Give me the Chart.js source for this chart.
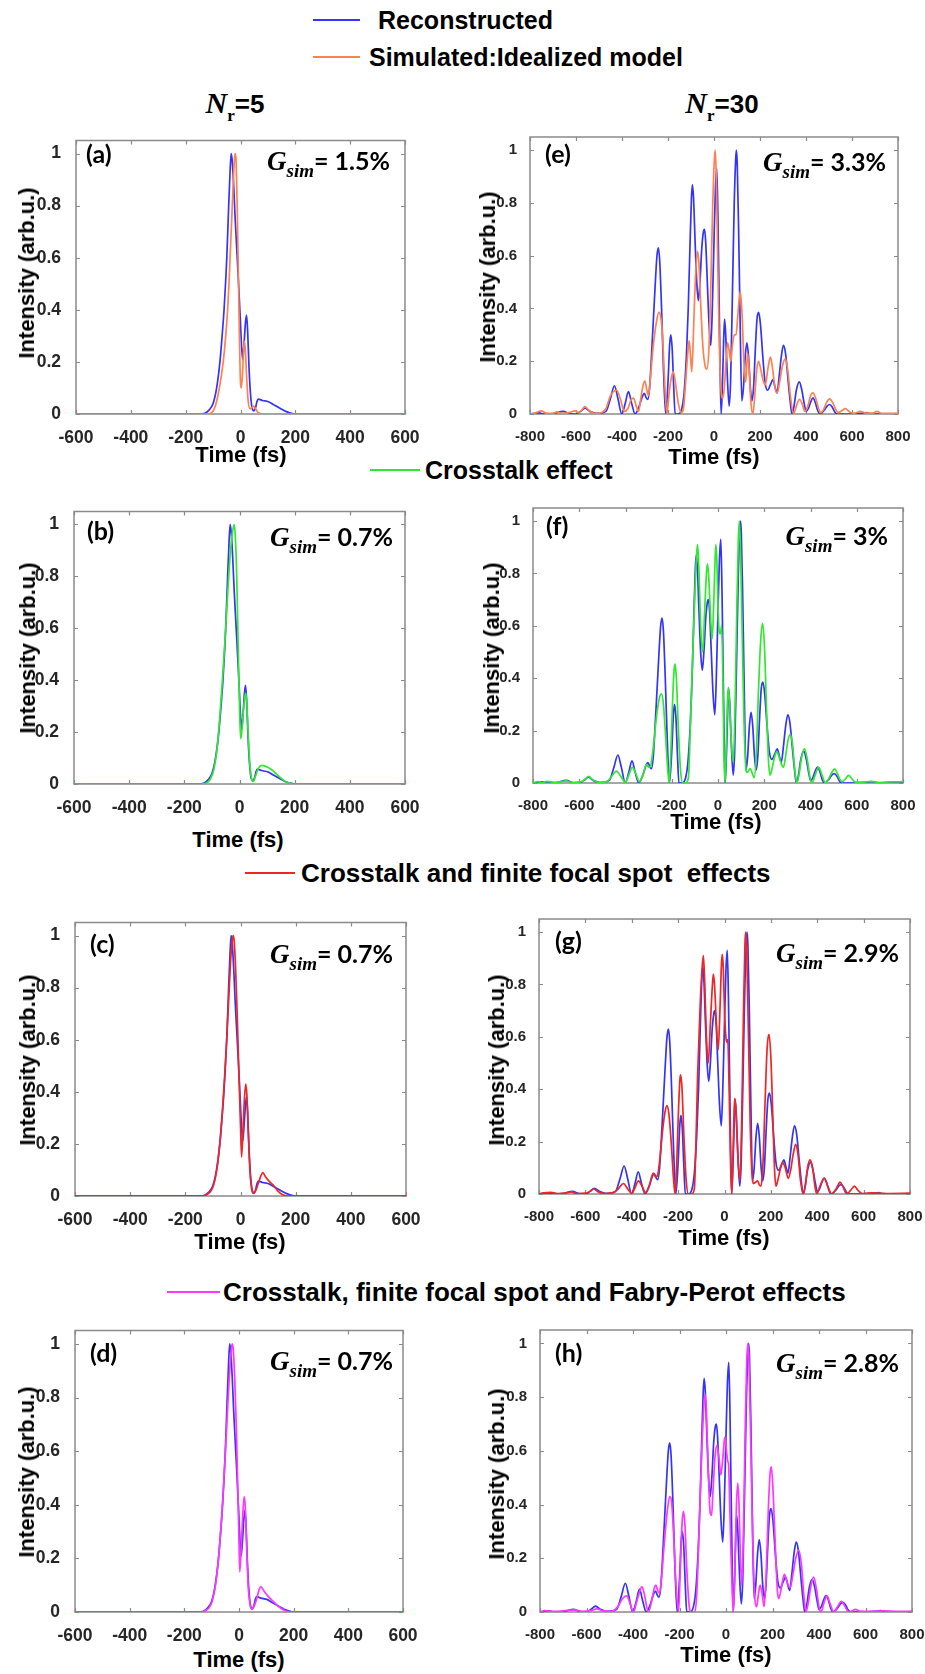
<!DOCTYPE html>
<html>
<head>
<meta charset="utf-8">
<script src="https://cdn.jsdelivr.net/npm/chart.js@4.4.1/dist/chart.umd.min.js"></script>
<style>
  html, body { margin: 0; padding: 0; background: #fff; }
  #page { position: relative; width: 925px; height: 1674px; overflow: hidden; color: #000; }
  #page canvas { position: absolute; }
  .abs { position: absolute; white-space: pre; }
  .key { position: absolute; height: 2px; }
  .legend { font: bold 26px 'Liberation Sans', Arial, sans-serif; line-height: 30px; }
  .xtitle { font: bold 22px 'Liberation Sans', Arial, sans-serif; line-height: 26px; transform: translate(-50%, -50%); }
  .ytitle { font: bold 22px 'Liberation Sans', Arial, sans-serif; line-height: 26px; transform: translate(-50%, -50%) rotate(-90deg); }
  .tag { font: bold 25px Lato, 'Open Sans', sans-serif; line-height: 30px; }
  .gsim { font: bold 25px Lato, 'Open Sans', sans-serif; line-height: 30px; text-align: right; }
  .gsim .g { font: italic bold 27px 'Liberation Serif', 'DejaVu Serif', serif; }
  .gsim .sub { font: italic bold 19px 'Liberation Serif', 'DejaVu Serif', serif; position: relative; top: 7px; }
  .head { font: bold 26px 'Liberation Sans', Arial, sans-serif; line-height: 30px; text-align: center; width: 200px; }
  .head .n { font: italic bold 30px 'Liberation Serif', serif; }
  .head .r { font: bold 17px 'Liberation Serif', serif; position: relative; top: 8px; }
</style>
</head>
<body>
<div id="page"></div>
<script>
// ---- axis ticks ----
const timeTicksNr5 = [-600, -400, -200, 0, 200, 400, 600];
const timeTicksNr30 = [-800, -600, -400, -200, 0, 200, 400, 600, 800];
const intensityTicks = [0, 0.2, 0.4, 0.6, 0.8, 1];

// ---- series: [time (fs), intensity] ----
// N_r = 5
const reconstructedNr5 = [[-600,0],[-300,0],[-150,0],[-130,0.003],[-115,0.015],[-100,0.04],[-87,0.1],[-75,0.2],[-67,0.3],[-60,0.4],[-50,0.6],[-43,0.8],[-38,0.93],[-34,1.0],[-30,0.97],[-25,0.88],[-19,0.74],[-13,0.62],[-7,0.5],[-1,0.37],[4,0.26],[8,0.21],[13,0.27],[18,0.35],[22,0.38],[26,0.32],[31,0.18],[37,0.07],[43,0.02],[49,0.012],[55,0.025],[60,0.048],[65,0.057],[80,0.052],[102,0.047],[122,0.035],[144,0.022],[165,0.01],[181,0.004],[200,0],[600,0]];
const idealizedNr5 = [[-600,0],[-300,0],[-120,0],[-105,0.005],[-92,0.03],[-77,0.1],[-63,0.2],[-54,0.3],[-47,0.4],[-42,0.5],[-38,0.6],[-34,0.7],[-30,0.8],[-26,0.9],[-22,0.98],[-19,1.0],[-16,0.97],[-12,0.8],[-8,0.55],[-4,0.3],[0,0.12],[3,0.1],[7,0.15],[11,0.24],[14,0.28],[18,0.24],[23,0.13],[28,0.05],[35,0.02],[42,0.025],[48,0.03],[55,0.02],[65,0.005],[80,0],[600,0]];
const crosstalkNr5 = [[-600,0],[-300,0],[-140,0],[-120,0.004],[-105,0.02],[-92,0.06],[-80,0.15],[-70,0.28],[-60,0.43],[-50,0.6],[-42,0.75],[-34,0.88],[-27,0.96],[-22,0.99],[-19,1.0],[-15,0.95],[-10,0.8],[-5,0.55],[0,0.3],[4,0.175],[8,0.2],[14,0.28],[20,0.34],[23,0.35],[27,0.3],[32,0.18],[38,0.07],[44,0.02],[50,0.01],[58,0.03],[68,0.06],[80,0.072],[95,0.068],[110,0.06],[123,0.05],[140,0.032],[159,0.015],[175,0.005],[190,0],[600,0]];
const focalSpotNr5 = [[-600,0],[-300,0],[-140,0],[-125,0.004],[-110,0.015],[-98,0.04],[-86,0.1],[-75,0.2],[-66,0.32],[-58,0.45],[-50,0.6],[-43,0.75],[-36,0.9],[-31,0.97],[-27,1.0],[-23,0.98],[-18,0.88],[-12,0.7],[-6,0.48],[0,0.27],[4,0.15],[9,0.25],[14,0.37],[19,0.43],[23,0.39],[28,0.25],[34,0.1],[40,0.03],[46,0.01],[55,0.02],[65,0.05],[75,0.08],[81,0.09],[90,0.075],[105,0.055],[120,0.04],[135,0.02],[150,0.007],[170,0],[600,0]];
const fabryPerotNr5 = [[-600,0],[-300,0],[-140,0],[-125,0.004],[-110,0.015],[-98,0.04],[-86,0.1],[-75,0.2],[-65,0.33],[-56,0.48],[-48,0.63],[-41,0.77],[-34,0.9],[-29,0.97],[-25,1.0],[-21,0.98],[-16,0.88],[-10,0.7],[-4,0.45],[0,0.26],[3,0.15],[8,0.24],[13,0.35],[19,0.43],[23,0.39],[28,0.24],[34,0.09],[40,0.03],[47,0.01],[55,0.02],[65,0.05],[74,0.085],[80,0.095],[90,0.08],[105,0.06],[125,0.04],[145,0.02],[165,0.007],[186,0],[600,0]];

// N_r = 30
const reconstructedNr30 = [[-800,0],[-760,0.004],[-740,0],[-700,0.002],[-655,0.01],[-630,0.002],[-600,0],[-580,0.01],[-561,0.022],[-540,0.01],[-510,0.002],[-470,0.01],[-450,0.06],[-433,0.107],[-418,0.06],[-401,0],[-386,0.04],[-372,0.085],[-358,0.04],[-343,0],[-325,0.03],[-310,0.07],[-303,0.078],[-295,0.062],[-288,0.055],[-280,0.1],[-270,0.25],[-258,0.45],[-248,0.6],[-242,0.63],[-236,0.58],[-228,0.4],[-220,0.18],[-210,0],[-200,0.12],[-193,0.26],[-188,0.3],[-182,0.25],[-175,0.1],[-169,0],[-155,0],[-140,0.02],[-130,0.08],[-120,0.22],[-112,0.4],[-104,0.65],[-98,0.82],[-94,0.87],[-89,0.82],[-82,0.65],[-75,0.5],[-68,0.43],[-61,0.5],[-53,0.63],[-46,0.69],[-41,0.7],[-36,0.65],[-29,0.5],[-22,0.35],[-14,0.26],[-8,0.38],[-1,0.62],[6,0.85],[12,0.93],[17,0.75],[22,0.45],[27,0.15],[31,0],[37,0.12],[42,0.28],[46,0.36],[51,0.3],[58,0.14],[66,0.03],[72,0.12],[80,0.45],[88,0.8],[94,0.96],[97,1.0],[101,0.95],[107,0.7],[113,0.38],[121,0.05],[128,0.1],[136,0.22],[143,0.27],[150,0.22],[158,0.1],[165,0.05],[172,0.1],[180,0.25],[187,0.36],[194,0.385],[202,0.34],[212,0.22],[222,0.12],[233,0.09],[245,0.11],[256,0.13],[266,0.1],[274,0.08],[283,0.14],[293,0.22],[302,0.26],[311,0.23],[322,0.13],[331,0.05],[339,0],[348,0.03],[358,0.09],[371,0.122],[382,0.09],[392,0.04],[400,0.01],[410,0.02],[420,0.045],[430,0.061],[440,0.045],[450,0.015],[460,0],[480,0.015],[492,0.03],[503,0.036],[515,0.025],[525,0.008],[535,0],[600,0],[650,0.003],[665,0.005],[680,0],[800,0]];
const idealizedNr30 = [[-800,0],[-780,0.003],[-750,0.012],[-730,0.003],[-700,0.002],[-684,0.008],[-660,0.002],[-630,0.005],[-604,0.012],[-590,0.005],[-575,0.015],[-561,0.028],[-545,0.015],[-520,0.002],[-490,0.005],[-470,0.02],[-450,0.07],[-423,0.09],[-405,0.05],[-390,0.01],[-375,0.02],[-360,0.055],[-350,0.06],[-338,0.03],[-328,0.01],[-318,0.06],[-308,0.11],[-300,0.125],[-292,0.09],[-285,0.07],[-278,0.12],[-265,0.25],[-250,0.35],[-240,0.385],[-232,0.37],[-224,0.3],[-216,0.15],[-205,0],[-195,0.08],[-185,0.14],[-177,0.16],[-168,0.12],[-155,0.04],[-143,0.005],[-133,0.02],[-125,0.1],[-115,0.22],[-108,0.278],[-102,0.22],[-97,0.16],[-92,0.24],[-85,0.42],[-78,0.56],[-72,0.617],[-66,0.58],[-58,0.42],[-48,0.25],[-38,0.18],[-31,0.17],[-22,0.25],[-14,0.48],[-6,0.78],[0,0.94],[5,1.0],[10,0.9],[16,0.6],[22,0.3],[30,0.1],[38,0.06],[45,0.1],[52,0.2],[59,0.27],[66,0.24],[73,0.2],[80,0.26],[88,0.3],[96,0.3],[104,0.38],[114,0.465],[122,0.38],[130,0.2],[138,0.12],[146,0.23],[152,0.18],[160,0.05],[169,0],[178,0.08],[186,0.17],[194,0.2],[203,0.17],[213,0.13],[223,0.11],[234,0.17],[245,0.216],[255,0.17],[265,0.1],[275,0.08],[285,0.12],[297,0.18],[310,0.21],[320,0.17],[332,0.07],[346,0],[358,0.03],[372,0.056],[385,0.035],[395,0.01],[408,0.03],[420,0.07],[430,0.08],[442,0.06],[455,0.02],[465,0.005],[478,0.02],[490,0.045],[503,0.057],[515,0.045],[528,0.02],[540,0.005],[555,0.012],[571,0.02],[590,0.008],[610,0.003],[637,0.01],[660,0.003],[690,0.003],[709,0.01],[730,0.002],[800,0.003]];
const crosstalkNr30 = [[-800,0],[-780,0.005],[-760,0.002],[-740,0.006],[-700,0.002],[-655,0.008],[-630,0.002],[-590,0.005],[-575,0.015],[-559,0.025],[-542,0.012],[-515,0.002],[-480,0.005],[-460,0.025],[-439,0.045],[-420,0.025],[-400,0.002],[-388,0.025],[-370,0.06],[-355,0.035],[-340,0.005],[-325,0.03],[-309,0.07],[-298,0.06],[-290,0.07],[-278,0.15],[-265,0.26],[-252,0.33],[-244,0.34],[-236,0.3],[-228,0.2],[-218,0.06],[-211,0],[-204,0.12],[-196,0.32],[-190,0.43],[-186,0.455],[-180,0.4],[-172,0.22],[-162,0.05],[-153,0],[-140,0],[-128,0.02],[-120,0.2],[-111,0.45],[-100,0.72],[-92,0.88],[-88,0.91],[-82,0.8],[-75,0.6],[-66,0.5],[-58,0.65],[-50,0.8],[-46,0.837],[-41,0.8],[-33,0.65],[-25,0.55],[-18,0.7],[-12,0.87],[-9,0.91],[-5,0.85],[0,0.68],[5,0.58],[10,0.57],[16,0.6],[22,0.35],[26,0.1],[30,0],[36,0.15],[41,0.32],[45,0.365],[50,0.3],[58,0.15],[66,0.08],[74,0.3],[82,0.7],[88,0.93],[92,1.0],[97,0.9],[104,0.6],[112,0.25],[120,0.06],[124,0.04],[131,0.045],[139,0.055],[147,0.04],[156,0.02],[165,0.1],[175,0.35],[185,0.55],[193,0.61],[201,0.52],[210,0.28],[218,0.09],[225,0.03],[235,0.06],[245,0.1],[254,0.12],[264,0.1],[275,0.07],[283,0.06],[292,0.1],[302,0.16],[312,0.185],[322,0.15],[332,0.05],[341,0],[350,0.03],[362,0.1],[374,0.13],[386,0.09],[398,0.02],[406,0],[420,0.03],[435,0.06],[450,0.03],[464,0],[478,0.015],[492,0.04],[504,0.054],[517,0.035],[528,0.012],[536,0.005],[550,0.015],[565,0.029],[580,0.015],[595,0.003],[620,0.003],[660,0.006],[700,0.002],[740,0.004],[800,0.005]];
const focalSpotNr30 = [[-800,0],[-780,0.004],[-750,0.006],[-720,0.002],[-690,0.003],[-660,0.008],[-640,0.002],[-600,0.003],[-580,0.01],[-565,0.02],[-548,0.01],[-520,0.002],[-480,0.005],[-458,0.02],[-436,0.04],[-418,0.02],[-400,0.002],[-388,0.02],[-371,0.05],[-356,0.03],[-340,0.005],[-325,0.03],[-307,0.08],[-297,0.065],[-289,0.07],[-278,0.14],[-266,0.25],[-255,0.32],[-247,0.338],[-239,0.3],[-230,0.2],[-220,0.06],[-213,0],[-206,0.12],[-198,0.33],[-192,0.44],[-189,0.455],[-183,0.4],[-175,0.22],[-165,0.05],[-156,0],[-142,0],[-130,0.02],[-123,0.2],[-116,0.45],[-105,0.72],[-95,0.88],[-91,0.91],[-85,0.8],[-78,0.6],[-70,0.5],[-61,0.65],[-52,0.8],[-48,0.84],[-43,0.8],[-35,0.65],[-27,0.55],[-19,0.72],[-13,0.88],[-9,0.915],[-5,0.86],[0,0.7],[6,0.6],[10,0.58],[14,0.59],[20,0.4],[26,0.12],[31,0],[37,0.16],[42,0.33],[45,0.365],[50,0.31],[58,0.14],[67,0.05],[74,0.28],[82,0.7],[88,0.95],[91,1.0],[96,0.92],[103,0.62],[111,0.26],[119,0.07],[124,0.04],[134,0.045],[143,0.05],[150,0.035],[158,0.03],[166,0.12],[175,0.35],[184,0.56],[192,0.61],[200,0.52],[209,0.28],[216,0.09],[222,0.03],[232,0.06],[242,0.1],[251,0.12],[262,0.1],[275,0.06],[285,0.09],[296,0.15],[307,0.19],[317,0.15],[328,0.05],[340,0],[348,0.03],[358,0.1],[369,0.13],[380,0.1],[390,0.03],[398,0],[412,0.03],[430,0.06],[445,0.03],[462,0],[478,0.015],[490,0.035],[498,0.045],[510,0.03],[527,0],[545,0.015],[560,0.03],[575,0.015],[595,0.002],[640,0.004],[700,0.002],[800,0.003]];
const fabryPerotNr30 = [[-800,0],[-780,0.005],[-740,0.002],[-700,0.004],[-650,0.008],[-620,0.002],[-580,0.005],[-556,0.012],[-530,0.004],[-490,0.003],[-465,0.02],[-445,0.05],[-427,0.06],[-412,0.03],[-398,0],[-385,0.035],[-370,0.08],[-362,0.095],[-352,0.07],[-334,0],[-320,0.04],[-308,0.09],[-301,0.1],[-294,0.08],[-286,0.07],[-278,0.12],[-266,0.25],[-252,0.38],[-242,0.43],[-234,0.41],[-226,0.3],[-215,0.1],[-204,0],[-197,0.15],[-189,0.33],[-183,0.375],[-177,0.33],[-168,0.15],[-158,0.02],[-151,0],[-133,0],[-125,0.08],[-114,0.35],[-104,0.6],[-95,0.77],[-90,0.81],[-84,0.74],[-76,0.52],[-68,0.37],[-62,0.36],[-56,0.45],[-47,0.58],[-39,0.62],[-31,0.58],[-22,0.51],[-14,0.57],[-7,0.64],[-4,0.65],[2,0.6],[8,0.56],[11,0.55],[16,0.4],[22,0.2],[28,0.05],[32,0],[38,0.16],[45,0.4],[51,0.48],[56,0.4],[62,0.2],[68,0.1],[75,0.3],[83,0.7],[89,0.93],[94,1.0],[99,0.93],[106,0.65],[114,0.3],[123,0.07],[132,0.02],[140,0.07],[147,0.1],[155,0.07],[164,0.02],[172,0.12],[182,0.38],[190,0.52],[195,0.54],[202,0.46],[212,0.25],[221,0.08],[227,0.05],[238,0.09],[251,0.14],[263,0.11],[276,0.09],[288,0.14],[300,0.2],[313,0.23],[324,0.18],[334,0.07],[344,0],[355,0.04],[366,0.1],[377,0.13],[390,0.08],[400,0.02],[409,0],[420,0.03],[434,0.06],[448,0.03],[463,0],[480,0.02],[496,0.04],[512,0.02],[528,0],[545,0.005],[557,0.01],[575,0.003],[620,0.002],[680,0.004],[740,0.002],[800,0.003]];

// ---- labels ----
const panelLetters = ['(a)', '(b)', '(c)', '(d)', '(e)', '(f)', '(g)', '(h)'];
const gsimValues = ['1.5%', '0.7%', '0.7%', '0.7%', '3.3%', '3%', '2.9%', '2.8%'];
const legendNames = ['Reconstructed', 'Simulated:Idealized model', 'Crosstalk effect',
  'Crosstalk and finite focal spot  effects', 'Crosstalk, finite focal spot and Fabry-Perot effects'];

const BLUE = 'rgb(52,52,248)';
const ORANGE = 'rgb(255,128,80)';
const GREEN = 'rgb(48,232,48)';
const RED = 'rgb(238,38,38)';
const MAGENTA = 'rgb(255,55,255)';

const page = document.getElementById('page');

function addDiv(cls, html, style) {
  const d = document.createElement('div');
  d.className = 'abs ' + cls;
  d.innerHTML = html;
  Object.assign(d.style, style);
  page.appendChild(d);
  return d;
}

// legend rows: coloured stroke + caption
function legendRow(color, x0, x1, textX, cy, text, size) {
  const k = document.createElement('div');
  k.className = 'key';
  Object.assign(k.style, { left: x0 + 'px', width: (x1 - x0) + 'px', top: (cy - 1) + 'px', background: color });
  page.appendChild(k);
  const d = addDiv('legend', text, { left: textX + 'px', top: (cy - 15) + 'px' });
  if (size) d.style.fontSize = size + 'px';
}

legendRow(BLUE, 313, 360, 378, 20, legendNames[0], 25);
legendRow(ORANGE, 313, 360, 369, 57, legendNames[1], 25);
legendRow(GREEN, 370, 420, 425, 470, legendNames[2], 25);
legendRow(RED, 245, 295, 301, 873, legendNames[3]);
legendRow(MAGENTA, 167, 220, 223, 1292, legendNames[4]);

// column headings
addDiv('head', '<span class="n">N</span><span class="r">r</span>=5', { left: (235 - 100) + 'px', top: (101 - 15) + 'px' });
addDiv('head', '<span class="n">N</span><span class="r">r</span>=30', { left: (722 - 100) + 'px', top: (101 - 15) + 'px' });

// frame with inward ticks on all four sides
const framePlugin = {
  id: 'frame',
  beforeDatasetsDraw(chart) {
    const { ctx, chartArea: a, scales: { x, y } } = chart;
    ctx.save();
    ctx.strokeStyle = '#8a8a8a';
    ctx.lineWidth = 1.5;
    ctx.strokeRect(a.left, a.top, a.right - a.left, a.bottom - a.top);
    ctx.lineWidth = 1.2;
    ctx.beginPath();
    x.ticks.forEach(t => {
      const px = Math.round(x.getPixelForValue(t.value)) + 0.5;
      ctx.moveTo(px, a.bottom); ctx.lineTo(px, a.bottom - 4);
      ctx.moveTo(px, a.top); ctx.lineTo(px, a.top + 4);
    });
    y.ticks.forEach(t => {
      const py = Math.round(y.getPixelForValue(t.value)) + 0.5;
      ctx.moveTo(a.left, py); ctx.lineTo(a.left + 4, py);
      ctx.moveTo(a.right, py); ctx.lineTo(a.right - 4, py);
    });
    ctx.stroke();
    ctx.restore();
  }
};

const PL = 60, PT = 10, PR = 24, PB = 34;

function makePanel(p) {
  const [l, t, r, b] = p.box;
  const canvas = document.createElement('canvas');
  canvas.width = (r - l) + PL + PR;
  canvas.height = (b - t) + PT + PB;
  canvas.style.left = (l - PL) + 'px';
  canvas.style.top = (t - PT) + 'px';
  canvas.style.width = canvas.width + 'px';
  canvas.style.height = canvas.height + 'px';
  page.appendChild(canvas);

  const tickFont = { family: "'Liberation Sans', Arial, sans-serif", size: p.tickSize, weight: 'bold' };

  new Chart(canvas, {
    type: 'line',
    data: {
      datasets: p.series.map(s => ({
        data: s.points.map(([x, y]) => ({ x, y })),
        borderColor: s.color,
        borderWidth: 1.7,
        pointRadius: 0,
        cubicInterpolationMode: 'monotone',
        fill: false
      }))
    },
    options: {
      responsive: false,
      animation: false,
      layout: { padding: { left: 0, top: PT, right: PR, bottom: 0 } },
      plugins: { legend: { display: false }, tooltip: { enabled: false } },
      scales: {
        x: {
          type: 'linear',
          min: p.ticks[0],
          max: p.ticks[p.ticks.length - 1],
          afterBuildTicks: s => { s.ticks = p.ticks.map(v => ({ value: v })); },
          afterFit: s => { s.height = PB; },
          grid: { display: false },
          border: { display: false },
          ticks: { font: tickFont, color: '#262626', padding: 6, maxRotation: 0, autoSkip: false,
                   callback: v => String(v) }
        },
        y: {
          min: 0,
          max: 1.05,
          afterBuildTicks: s => { s.ticks = intensityTicks.map(v => ({ value: v })); },
          afterFit: s => { s.width = PL; },
          grid: { display: false },
          border: { display: false },
          ticks: { font: tickFont, color: '#262626', padding: p.yPad,
                   callback: v => (v === 0 || v === 1) ? String(v) : v.toFixed(1) }
        }
      }
    },
    plugins: [framePlugin]
  });

  // panel letter, G_sim value, axis titles
  addDiv('tag', panelLetters[p.index], { left: p.tag[0] + 'px', top: (p.tag[1] - 15) + 'px' });
  addDiv('gsim', '<span class="g">G</span><span class="sub">sim</span>= ' + gsimValues[p.index],
    { right: (925 - p.gsim[0]) + 'px', top: (p.gsim[1] - 15) + 'px' });
  addDiv('xtitle', 'Time (fs)', { left: p.xTitle[0] + 'px', top: p.xTitle[1] + 'px' });
  addDiv('ytitle', 'Intensity (arb.u.)', { left: p.yTitle[0] + 'px', top: p.yTitle[1] + 'px' });
}

const panels = [
  { index: 0, box: [76, 133, 405, 414], ticks: timeTicksNr5, tickSize: 17.5, yPad: 7,
    series: [{ points: idealizedNr5, color: ORANGE }, { points: reconstructedNr5, color: BLUE }],
    tag: [86, 153], gsim: [390, 160], xTitle: [241, 455], yTitle: [27, 273] },
  { index: 1, box: [74, 504, 405, 784], ticks: timeTicksNr5, tickSize: 17.5, yPad: 7,
    series: [{ points: crosstalkNr5, color: GREEN }, { points: reconstructedNr5, color: BLUE }],
    tag: [87, 530], gsim: [393, 536], xTitle: [238, 840], yTitle: [28, 648] },
  { index: 2, box: [75, 915, 406, 1196], ticks: timeTicksNr5, tickSize: 17.5, yPad: 7,
    series: [{ points: focalSpotNr5, color: RED }, { points: reconstructedNr5, color: BLUE }],
    tag: [90, 943], gsim: [393, 953], xTitle: [240, 1242], yTitle: [28, 1060] },
  { index: 3, box: [75, 1323, 403, 1612], ticks: timeTicksNr5, tickSize: 17.5, yPad: 7,
    series: [{ points: fabryPerotNr5, color: MAGENTA }, { points: reconstructedNr5, color: BLUE }],
    tag: [90, 1352], gsim: [393, 1360], xTitle: [239, 1660], yTitle: [27, 1472] },
  { index: 4, box: [530, 133, 898, 414], ticks: timeTicksNr30, tickSize: 15, yPad: 5,
    series: [{ points: idealizedNr30, color: ORANGE }, { points: reconstructedNr30, color: BLUE }],
    tag: [545, 153], gsim: [886, 161], xTitle: [714, 457], yTitle: [488, 277] },
  { index: 5, box: [533, 504, 903, 783], ticks: timeTicksNr30, tickSize: 15, yPad: 5,
    series: [{ points: crosstalkNr30, color: GREEN }, { points: reconstructedNr30, color: BLUE }],
    tag: [546, 525], gsim: [888, 535], xTitle: [716, 822], yTitle: [492, 648] },
  { index: 6, box: [539, 915, 910, 1194], ticks: timeTicksNr30, tickSize: 15, yPad: 5,
    series: [{ points: focalSpotNr30, color: RED }, { points: reconstructedNr30, color: BLUE }],
    tag: [555, 940], gsim: [899, 952], xTitle: [724, 1238], yTitle: [497, 1060] },
  { index: 7, box: [540, 1326, 912, 1612], ticks: timeTicksNr30, tickSize: 15, yPad: 5,
    series: [{ points: fabryPerotNr30, color: MAGENTA }, { points: reconstructedNr30, color: BLUE }],
    tag: [555, 1352], gsim: [899, 1362], xTitle: [726, 1655], yTitle: [497, 1474] }
];

panels.forEach(makePanel);
</script>
</body>
</html>
